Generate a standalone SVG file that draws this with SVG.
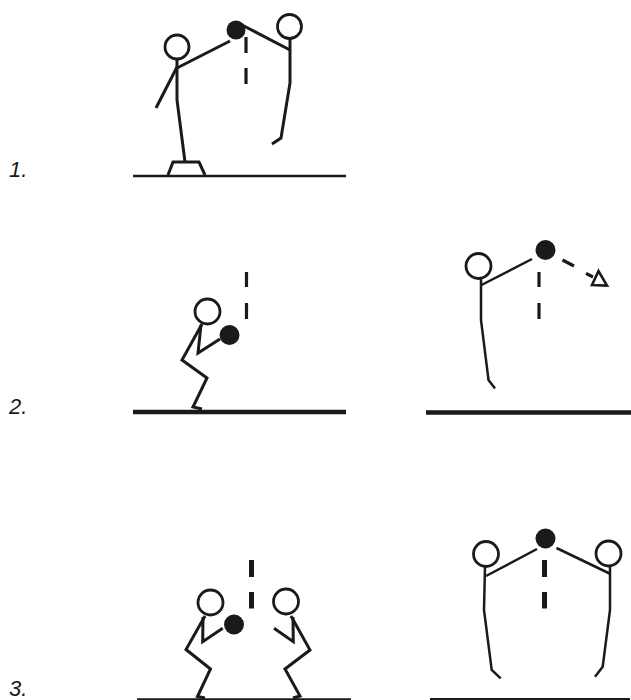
<svg xmlns="http://www.w3.org/2000/svg" width="631" height="700" viewBox="0 0 631 700">
  <style>
    .limb { fill: none; stroke: #1a1a1a; stroke-width: 3; stroke-linecap: butt; stroke-linejoin: miter; }
    .thin { stroke-width: 2.5; }
    .head { fill: #fff; stroke: #1a1a1a; stroke-width: 2.8; }
    .ball { fill: #1a1a1a; }
    .dash { stroke: #1a1a1a; stroke-width: 3.2; }
    .dash-wide { stroke: #1a1a1a; stroke-width: 5; }
    .ground { stroke: #1a1a1a; }
    .label { font-family: "Liberation Sans", Arial, sans-serif; font-size: 22px; font-style: italic; fill: #1a1a1a; }
  </style>

  <!-- step numbers -->
  <text class="label" x="9" y="177">1.</text>
  <text class="label" x="9" y="414">2.</text>
  <text class="label" x="9" y="696">3.</text>

  <!-- Step 1: setter on a platform, blocker reaching over -->
  <g id="step1">
    <line class="ground" x1="133" y1="176" x2="346" y2="176" stroke-width="2.6"/>
    <polyline class="limb" points="168,175 173,162 199,162 205,175"/>
    <g id="step1-player-left">
      <circle class="head" cx="177" cy="47" r="12"/>
      <polyline class="limb" points="177,59 177,100 185,162"/>
      <line class="limb" x1="177" y1="67" x2="156" y2="108"/>
      <line class="limb" x1="177" y1="68" x2="230" y2="41"/>
    </g>
    <circle id="step1-ball" class="ball" cx="236" cy="30" r="9.5"/>
    <g id="step1-player-right">
      <circle class="head" cx="289.5" cy="26.5" r="12"/>
      <line class="limb" x1="242" y1="25" x2="290" y2="50"/>
      <polyline class="limb" points="290,39 290,83 281,138 272,144"/>
    </g>
    <g id="step1-net">
      <line class="dash" x1="246" y1="37" x2="246" y2="53"/>
      <line class="dash" x1="246" y1="68" x2="246" y2="84"/>
    </g>
  </g>

  <!-- Step 2 left: crouched player holding the ball -->
  <g id="step2-left">
    <line class="ground" x1="133" y1="412" x2="346" y2="412" stroke-width="4.5"/>
    <circle class="head" cx="207.5" cy="311.5" r="12.5"/>
    <polyline class="limb" points="202,324 182,360 207,378 193,407 202,409"/>
    <polyline class="limb" points="201,325 198,353 220,339"/>
    <circle class="ball" cx="229.5" cy="335" r="10"/>
    <line class="dash" x1="246.5" y1="272" x2="246.5" y2="287"/>
    <line class="dash" x1="246.5" y1="303" x2="246.5" y2="319"/>
  </g>

  <!-- Step 2 right: player reaching up, ball sent over -->
  <g id="step2-right">
    <line class="ground" x1="426" y1="412.5" x2="631" y2="412.5" stroke-width="4.5"/>
    <circle class="head" cx="478.5" cy="266" r="12.5"/>
    <polyline class="limb thin" points="481,278.5 481,320 488.5,380 495,388.5"/>
    <line class="limb thin" x1="481.5" y1="285" x2="532" y2="259"/>
    <circle class="ball" cx="545.5" cy="250" r="10"/>
    <line class="dash" x1="539" y1="272" x2="539" y2="287"/>
    <line class="dash" x1="539" y1="303" x2="539" y2="319"/>
    <line class="dash" x1="562.5" y1="260" x2="574" y2="266"/>
    <line class="dash" x1="586" y1="273.3" x2="593" y2="277"/>
    <polygon points="598.5,271 592,285 607,285.5" fill="#fff" stroke="#1a1a1a" stroke-width="2.6" stroke-linejoin="miter"/>
  </g>

  <!-- Step 3 left: two players crouched facing each other -->
  <g id="step3-left">
    <line class="ground" x1="137" y1="699.3" x2="351" y2="699.3" stroke-width="2"/>
    <g id="step3-left-a">
      <circle class="head" cx="210.5" cy="602.5" r="12.5"/>
      <polyline class="limb" points="205,616 186,649.5 210.5,669 197.5,696.5 205,698"/>
      <polyline class="limb" points="203,617 202.7,641.7 222.7,628.3"/>
    </g>
    <circle class="ball" cx="234" cy="624.5" r="10"/>
    <g id="step3-left-b">
      <circle class="head" cx="286" cy="601.5" r="12.5"/>
      <polyline class="limb" points="291,616 310,650 285,669 300,696 293,698"/>
      <polyline class="limb" points="293,617 293.3,641.7 274,628.3"/>
    </g>
    <line class="dash-wide" x1="251.5" y1="560" x2="251.5" y2="577"/>
    <line class="dash-wide" x1="251.5" y1="592" x2="251.5" y2="608.5"/>
  </g>

  <!-- Step 3 right: two players reaching for the ball above the net -->
  <g id="step3-right">
    <line class="ground" x1="430" y1="699" x2="630" y2="699" stroke-width="2"/>
    <g id="step3-right-a">
      <circle class="head" cx="486" cy="554" r="12.5"/>
      <polyline class="limb thin" points="485,566.5 484,610 491.7,670 500.7,678.3"/>
      <line class="limb thin" x1="486" y1="576" x2="537" y2="549"/>
    </g>
    <circle class="ball" cx="545.5" cy="538.5" r="10"/>
    <g id="step3-right-b">
      <circle class="head" cx="608.5" cy="553.5" r="12.5"/>
      <line class="limb thin" x1="556.5" y1="548" x2="609.5" y2="573.5"/>
      <polyline class="limb thin" points="610,566 610,610 602.7,666.7 595,676.7"/>
    </g>
    <line class="dash-wide" x1="544.5" y1="560" x2="544.5" y2="577"/>
    <line class="dash-wide" x1="544.5" y1="592" x2="544.5" y2="608.5"/>
  </g>
</svg>
